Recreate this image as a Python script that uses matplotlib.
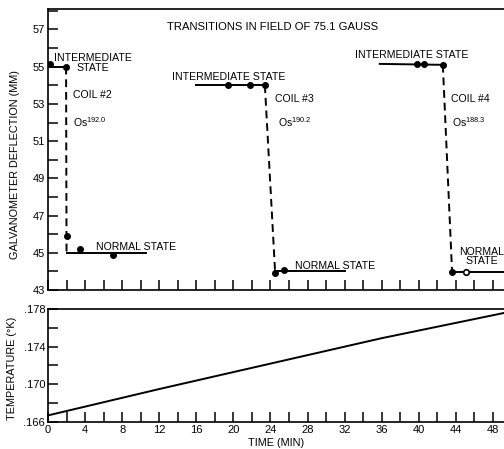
import matplotlib
matplotlib.use("Agg")
import matplotlib.pyplot as plt
from matplotlib.ticker import MultipleLocator

plt.rcParams["font.family"] = ["Liberation Sans", "DejaVu Sans"]

# ---------------------------------------------------------------------------
# Data
# ---------------------------------------------------------------------------
# coil #2
c2_inter_t = [0.2, 1.95]
c2_inter_v = [55.15, 55.0]
c2_trans_t = [1.95, 2.0]
c2_trans_v = [55.0, 45.9]
c2_norm_t = [3.45, 7.0]
c2_norm_v = [45.2, 44.9]
c2_line_t = [0.0, 1.95, 2.0, 10.6]
c2_line_v = [55.0, 55.0, 45.0, 45.0]

# coil #3
c3_inter_t = [19.4, 21.8, 23.4]
c3_inter_v = [54.0, 54.0, 54.0]
c3_norm_t = [24.5, 25.5]
c3_norm_v = [43.9, 44.1]
c3_top_t = [16.0, 23.4]
c3_top_v = [54.0, 54.0]
c3_bot_t = [24.5, 32.0]
c3_bot_v = [44.0, 44.0]

# coil #4
c4_inter_t = [39.8, 40.6, 42.6]
c4_inter_v = [55.15, 55.15, 55.1]
c4_norm_t = [43.6]
c4_norm_v = [43.95]
c4_open_t = [45.1]
c4_open_v = [43.95]
c4_top_t = [35.8, 42.6]
c4_top_v = [55.15, 55.1]
c4_bot_t = [43.6, 49.3]
c4_bot_v = [43.95, 43.95]

# temperature
temp_t = [0, 12, 24, 36, 49.3]
temp_v = [0.1667, 0.1695, 0.1722, 0.1749, 0.1776]

# ---------------------------------------------------------------------------
fig = plt.figure(figsize=(5.04, 4.49), dpi=100)
ax1 = fig.add_axes([48 / 504, 1 - 290 / 449, 1 - 48 / 504, 281 / 449])
ax2 = fig.add_axes([48 / 504, 1 - 422 / 449, 1 - 48 / 504, 113 / 449])

K = dict(color="black", lw=1.4)
DASH = dict(color="black", lw=1.4, ls=(0, (4, 2.5)))
M = dict(ls="none", marker="o", ms=4, color="black")

# coil 2
ax1.plot(c2_line_t[:2], c2_line_v[:2], **K)
ax1.plot(c2_line_t[1:3], c2_line_v[1:3], **DASH)
ax1.plot(c2_line_t[2:], c2_line_v[2:], **K)
ax1.plot(c2_inter_t + c2_trans_t[1:] + c2_norm_t, c2_inter_v + c2_trans_v[1:] + c2_norm_v, **M)

# coil 3
ax1.plot(c3_top_t, c3_top_v, **K)
ax1.plot([c3_top_t[1], c3_bot_t[0]], [c3_top_v[1], c3_bot_v[0]], **DASH)
ax1.plot(c3_bot_t, c3_bot_v, **K)
ax1.plot(c3_inter_t + c3_norm_t, c3_inter_v + c3_norm_v, **M)

# coil 4
ax1.plot(c4_top_t, c4_top_v, **K)
ax1.plot([c4_top_t[1], c4_bot_t[0]], [c4_top_v[1], c4_bot_v[0]], **DASH)
ax1.plot(c4_bot_t, c4_bot_v, **K)
ax1.plot(c4_inter_t + c4_norm_t, c4_inter_v + c4_norm_v, **M)
ax1.plot(c4_open_t, c4_open_v, ls="none", marker="o", ms=4, mfc="white", mec="black", mew=1.2)

fs = 7.6
ax1.text(24.2, 57.15, "TRANSITIONS IN FIELD OF 75.1 GAUSS", ha="center", va="center", fontsize=8.1)
ax1.text(4.8, 55.2, "INTERMEDIATE\nSTATE", ha="center", va="center", fontsize=fs, linespacing=0.95)
ax1.text(2.7, 53.5, "COIL #2", ha="left", va="center", fontsize=fs)
ax1.text(2.7, 52.0, r"Os$^{\mathregular{192.0}}$", ha="left", va="center", fontsize=fs)
ax1.text(5.2, 45.3, "NORMAL STATE", ha="left", va="center", fontsize=fs)

ax1.text(13.4, 54.46, "INTERMEDIATE STATE", ha="left", va="center", fontsize=fs)
ax1.text(24.5, 53.28, "COIL #3", ha="left", va="center", fontsize=fs)
ax1.text(24.8, 52.0, r"Os$^{\mathregular{190.2}}$", ha="left", va="center", fontsize=fs)
ax1.text(26.6, 44.3, "NORMAL STATE", ha="left", va="center", fontsize=fs)

ax1.text(33.1, 55.65, "INTERMEDIATE STATE", ha="left", va="center", fontsize=fs)
ax1.text(43.5, 53.28, "COIL #4", ha="left", va="center", fontsize=fs)
ax1.text(43.6, 52.0, r"Os$^{\mathregular{188.3}}$", ha="left", va="center", fontsize=fs)
ax1.text(46.8, 44.8, "NORMAL\nSTATE", ha="center", va="center", fontsize=fs, linespacing=0.95)

ax2.plot(temp_t, temp_v, color="black", lw=1.4)

for ax in (ax1, ax2):
    ax.set_xlim(0, 49.2)
    ax.spines["right"].set_visible(False)
    for s in ("top", "left", "bottom"):
        ax.spines[s].set_linewidth(1.2)
    ax.xaxis.set_major_locator(MultipleLocator(4))
    ax.xaxis.set_minor_locator(MultipleLocator(2))
    ax.tick_params(which="both", direction="in", length=7, width=1.1, labelsize=8, pad=2)
    ax.tick_params(axis="x", which="both", top=False)
    ax.tick_params(axis="y", which="both", right=False)

ax1.set_ylim(43, 58.1)
ax1.set_yticks(range(43, 58, 2))
ax1.yaxis.set_minor_locator(MultipleLocator(1))
ax1.tick_params(axis="x", labelbottom=False)
ax1.set_ylabel("GALVANOMETER DEFLECTION (MM)", fontsize=7.8)
ax1.yaxis.set_label_coords(-0.062, 0.448)

ax2.set_ylim(0.166, 0.178)
ax2.set_yticks([0.166, 0.170, 0.174, 0.178])
ax2.set_yticklabels([".166", ".170", ".174", ".178"])
ax2.yaxis.set_minor_locator(MultipleLocator(0.002))
ax2.set_ylabel("TEMPERATURE (°K)", fontsize=7.8)
ax2.yaxis.set_label_coords(-0.068, 0.478)
ax2.set_xlabel("TIME (MIN)", fontsize=7.8, labelpad=2)

fig.savefig("out.png", dpi=100)
